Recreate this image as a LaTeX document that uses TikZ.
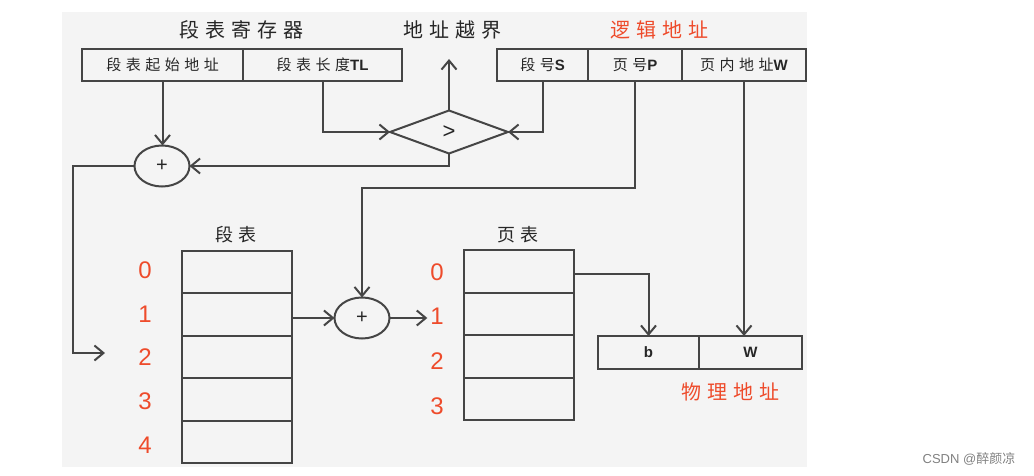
\documentclass[tikz,border=0pt]{standalone}
\usepackage{fontspec}
\usepackage{xcolor}
\usetikzlibrary{calc,positioning,shapes.geometric,arrows.meta}
\setmainfont{Liberation Sans}
\newfontfamily\cjk[LetterSpace=30]{Noto Sans CJK SC}
\newfontfamily\cjkplain{Noto Sans CJK SC}
\newcommand{\lat}[1]{{\normalfont\bfseries #1}}
\definecolor{color_line_default}{HTML}{454545}
\definecolor{color_red_default}{HTML}{EE4B2B}
\definecolor{color_back_default}{HTML}{F4F4F4}

\begin{document}
\begin{tikzpicture}[x=1pt,y=-1pt,color_line_default,line width=2pt,
	every node/.style={inner sep=0,outer sep=0,text=black!85},
	arr/.style={-{Straight Barb[length=9pt,width=15pt]}},
	regbox/.style={draw,minimum height=32pt,font=\fontsize{15}{15}\selectfont},
	cell/.style={draw,minimum width=110pt},
	adder/.style={draw,ellipse,minimum width=55pt,minimum height=41pt,font=\fontsize{20}{20}\selectfont},
	numlbl/.style={text=color_red_default,font=\fontsize{24}{24}\selectfont},
	title/.style={font=\fontsize{20}{20}\cjk}]
				\useasboundingbox (0, 0) rectangle (1034, 476);
				\fill[color_back_default] (62, 12) rectangle (807, 467);
				% Points
				\coordinate (oobtip) at (449, 59);
				\coordinate (pbend) at (635, 188);
				\coordinate (lftcorner) at (73, 353);
				\coordinate (segin) at (105, 353);

				% Titles
				\node[title] (regtitle) at (241, 30) {段表寄存器};
				\node[title] (oobtitle) at (452, 30) {地址越界};
				\node[title,text=color_red_default] (logtitle) at (659, 30) {逻辑地址};
				\node[title,font=\fontsize{18}{18}\cjk] (segtitle) at (236, 235) {段表};
				\node[title,font=\fontsize{18}{18}\cjk] (pgtitle) at (518, 235) {页表};
				\node[title,text=color_red_default] (phytitle) at (730, 392) {物理地址};

				% Registers
				\node[regbox,minimum width=161pt] (start) at (162.5, 65) {\cjk 段表起始地址};
				\node[regbox,minimum width=159pt] (tl) at (322.5, 65) {\cjk 段表长度\lat{TL}};
				\node[regbox,minimum width=91pt] (segno) at (542.5, 65) {\cjk 段号\lat{S}};
				\node[regbox,minimum width=94pt] (pageno) at (635, 65) {\cjk 页号\lat{P}};
				\node[regbox,minimum width=124pt] (offset) at (744, 65) {\cjk 页内地址\lat{W}};
				\node[regbox,minimum width=101pt,minimum height=33pt] (phyb) at (648.5, 352.5) {\lat{b}};
				\node[regbox,minimum width=103pt,minimum height=33pt] (phyw) at (750.5, 352.5) {\lat{W}};

				% Compare and add
				\node[draw,diamond,aspect=2.7,minimum width=118pt,minimum height=43pt,
					font=\fontsize{22}{22}\selectfont] (cmp) at (449, 132) {>};
				\node[adder] (add1) at (162, 166) {+};
				\node[adder] (add2) at (362, 318) {+};

				% Tables
				\foreach \i in {0,...,4} {
					\node[cell,minimum height=42.4pt] (seg\i) at (237, {272.2+42.4*\i}) {};
					\node[numlbl] (segl\i) at (145, {270+43.8*\i}) {\i};
				}
				\foreach \i in {0,...,3} {
					\node[cell,minimum height=42.5pt] (pg\i) at (519, {271.25+42.5*\i}) {};
					\node[numlbl] (pgl\i) at (437, {272+44.7*\i}) {\i};
				}

				% Arrows
				\draw[arr] (start.south) -- (start.south |- add1.north);
				\draw[arr] (tl.south) |- (cmp.west);
				\draw[arr] (segno.south) |- (cmp.east);
				\draw[arr] (cmp.north) -- (oobtip);
				\draw[arr] (cmp.south) |- (add1.east);
				\draw[arr] (add1.west) -| (lftcorner) -- (segin);
				\draw[arr] (pageno.south) -- (pbend) -| (add2.north);
				\draw[arr] (add2.west -| seg1.east) -- (add2.west);
				\draw[arr] (add2.east) -- ($(add2.east -| pgl1.west)+(-3,0)$);
				\draw[arr] ($(pg0.east)+(0,3)$) -| (phyb.north);
				\draw[arr] (offset.south) -- (offset.south |- phyw.north);

				% Mark
				\node[text=gray,font=\fontsize{13}{13}\selectfont] (mark) at (969, 459) {CSDN @\cjkplain 醉颜凉};
			\end{tikzpicture}
\end{document}
